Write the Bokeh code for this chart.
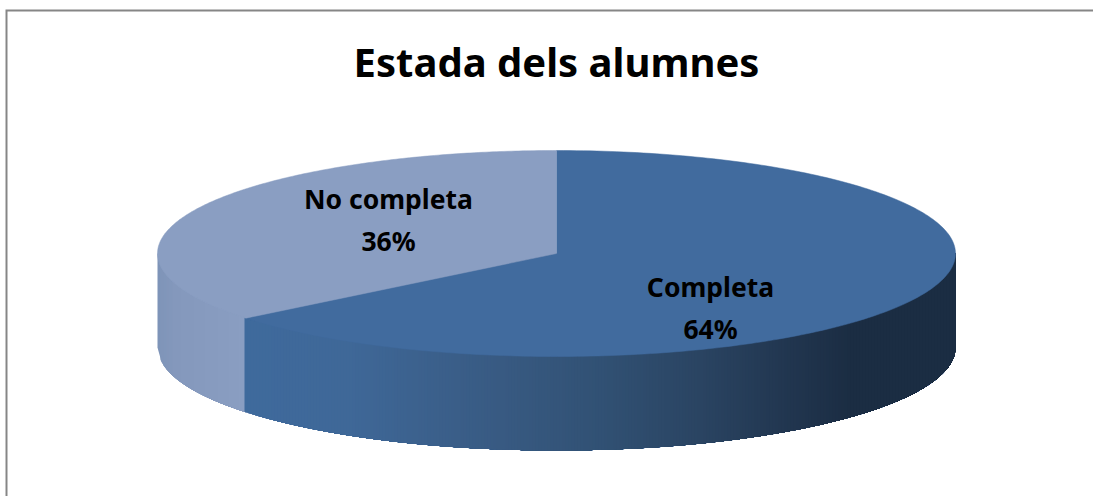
import numpy as np
from bokeh.plotting import figure
from bokeh.models import Range1d
from bokeh.core.properties import value
from bokeh.embed import file_html
from bokeh.resources import INLINE

title = "Estada dels alumnes"
categories = ["Completa", "No completa"]
shares = [64.2, 35.8]
percent_labels = ["64%", "36%"]
top_colors = ["#416b9e", "#8a9ec2"]

# layout of the projected disc, in picture pixels
CX, CY, RX, RY, DEPTH = 556.0, 253.0, 399.0, 103.0, 94.0
dark_stops_x = [245, 345, 500, 600, 700, 800, 850, 955]
dark_stops = ["#3f6a9c", "#3f6898", "#385a82", "#315174", "#2a4462", "#20344d", "#1b2d43", "#1b2d43"]
light_stops_x = [157, 175, 245]
light_stops = ["#7e94b8", "#8498bc", "#8a9ec2"]


def hex_rgb(c):
    return np.array([int(c[i:i + 2], 16) for i in (1, 3, 5)], float)


def ramp(x, xs, cs):
    rgb = [np.interp(x, xs, [hex_rgb(c)[k] for c in cs]) for k in range(3)]
    return "#%02x%02x%02x" % tuple(int(round(v)) for v in rgb)


def ell(theta):
    """theta is clockwise from twelve o'clock, radians."""
    return CX + RX * np.sin(theta), CY - RY * np.cos(theta)


p = figure(width=1093, height=496, x_range=Range1d(0, 1093), y_range=Range1d(496, 0),
           x_axis_location=None, y_axis_location=None, toolbar_location=None,
           output_backend="svg", min_border=0, outline_line_color=None,
           background_fill_color="white", border_fill_color="white")
p.grid.visible = False

# chart frame: only top and left edges are visible in the picture
p.line([6, 6, 1093], [496, 10, 10], line_color="#868686", line_width=2, line_join="miter")

fracs = np.array(shares) / sum(shares)
split = 2 * np.pi * fracs[0]
split_x = CX + RX * np.sin(split)

# side wall: one vertical band per step, painted over each other from left to right
strip_x, strip_y, strip_c = [], [], []
edges = np.arange(CX - RX, CX + RX + 3, 3.0)
edges[-1] = CX + RX
for a, b in zip(edges[:-1], edges[1:]):
    mid = (a + b) / 2
    right = CX + RX
    xs = np.linspace(a, right, 200)
    lo = CY + RY * np.sqrt(np.clip(1 - ((xs - CX) / RX) ** 2, 0, 1)) + DEPTH
    col = ramp(mid, light_stops_x, light_stops) if mid < split_x else ramp(mid, dark_stops_x, dark_stops)
    strip_x.append([a] + list(xs) + [right])
    strip_y.append([CY] + list(lo) + [CY])
    strip_c.append(col)
p.patches(strip_x, strip_y, fill_color=strip_c, line_color=None)

# top face of each slice
start = 0.0
for frac, col in zip(fracs, top_colors):
    th = np.linspace(start, start + 2 * np.pi * frac, 240)
    ex, ey = ell(th)
    p.patch([CX] + list(ex), [CY] + list(ey), fill_color=col, line_color=col, line_width=0.5)
    start += 2 * np.pi * frac

font = value("Noto Sans")
p.text([556], [61], text=[title], text_font=font, text_font_size="40px", text_font_style="bold",
       text_align="center", text_baseline="middle", text_color="#000000")
p.text([710, 388], [286, 198], text=categories, text_font=font, text_font_size="26.5px",
       text_font_style="bold", text_align="center", text_baseline="middle", text_color="#000000")
p.text([710, 388], [328, 240], text=percent_labels, text_font=font, text_font_size="26.5px",
       text_font_style="bold", text_align="center", text_baseline="middle", text_color="#000000")

open("out.html", "w").write(file_html(p, INLINE))
